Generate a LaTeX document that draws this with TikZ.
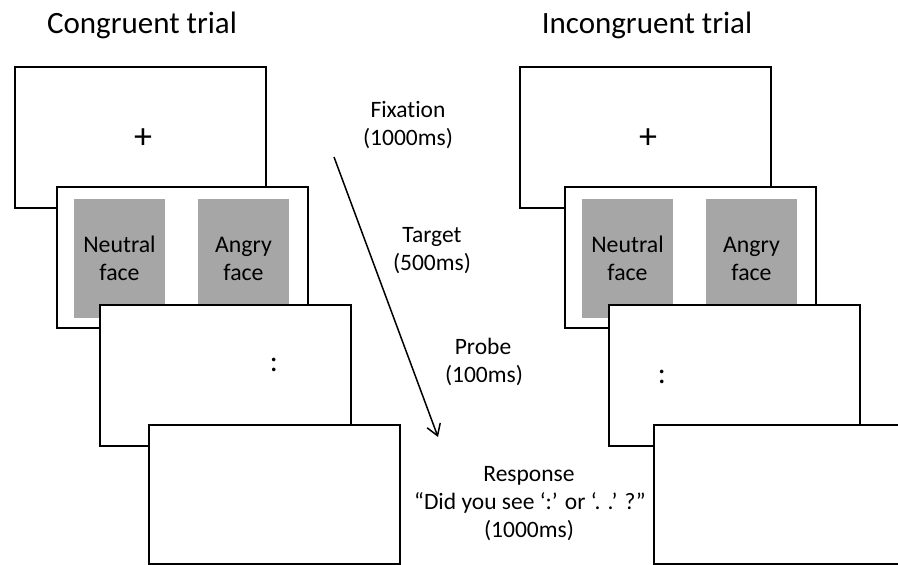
\documentclass[tikz,border=0pt]{standalone}
\usepackage{fontspec}
\setmainfont{Carlito}[Ligatures=NoCommon]
\usetikzlibrary{arrows.meta}
\definecolor{facegray}{HTML}{A6A6A6}
\begin{document}
\begin{tikzpicture}[x=1pt,y=-1pt,
  screen/.style={draw=black, line width=2.6pt, fill=white, inner sep=0pt, outer sep=0pt,
    minimum width=251pt, minimum height=141pt, anchor=north west},
  lastscreen/.style={screen, minimum height=139pt},
  facebox/.style={fill=facegray, draw=none, inner sep=0pt, outer sep=0pt,
    minimum width=91pt, minimum height=119pt, anchor=north west},
  title/.style={font=\fontsize{31}{36}\selectfont, anchor=base, inner sep=0pt},
  lab/.style={font=\fontsize{23.5}{28}\selectfont, anchor=base, inner sep=0pt},
  facelab/.style={font=\fontsize{23.8}{28}\selectfont, anchor=base, inner sep=0pt},
  plussym/.style={font=\fontsize{36}{40}\selectfont, anchor=base, inner sep=0pt},
  colonsym/.style={font=\fontsize{30}{34}\selectfont, anchor=base, inner sep=0pt},
  flow/.style={line width=1.5pt, -{Straight Barb[length=11pt,width=14pt]}}]
\useasboundingbox (0,0) rectangle (898,565);
\clip (0,0) rectangle (898,565);

% titles
\node[title] (tc) at (142,33) {Congruent trial};
\node[title] (ti) at (647,33) {Incongruent trial};

% ---------- congruent ----------
\node[screen] (L1) at (15,67) {};
\node[plussym] (Lplus) at (143,148.5) {+};
\node[screen] (L2) at (57,187) {};
\node[facebox] (Lg1) at (74,199) {};
\node[facebox] (Lg2) at (198,199) {};
\node[facelab] (Ln1) at (119.5,252) {Neutral};
\node[facelab] (Ln2) at (119.5,280) {face};
\node[facelab] (La1) at (243.5,252) {Angry};
\node[facelab] (La2) at (243.5,280) {face};
\node[screen] (L3) at (100,305) {};
\node[colonsym] (Lcolon) at (274,371.5) {:};
\node[lastscreen] (L4) at (149,425) {};

% ---------- incongruent ----------
\node[screen] (R1) at (520,67) {};
\node[plussym] (Rplus) at (648,148.5) {+};
\node[screen] (R2) at (565,187) {};
\node[facebox] (Rg1) at (582,199) {};
\node[facebox] (Rg2) at (706,199) {};
\node[facelab] (Rn1) at (627.5,252) {Neutral};
\node[facelab] (Rn2) at (627.5,280) {face};
\node[facelab] (Ra1) at (751.5,252) {Angry};
\node[facelab] (Ra2) at (751.5,280) {face};
\node[screen] (R3) at (609,305) {};
\node[colonsym] (Rcolon) at (662,383.5) {:};
\node[lastscreen] (R4) at (654,425) {};

% ---------- time arrow and labels ----------
\coordinate (a0) at (334,157);
\coordinate (a1) at (438,437);
\draw[flow] (a0) -- (a1);

\node[lab] (f1) at (408,117) {Fixation};
\node[lab] (f2) at (408,145) {(1000ms)};
\node[lab] (t1) at (432,242) {Target};
\node[lab] (t2) at (432,270) {(500ms)};
\node[lab] (p1) at (483,354) {Probe};
\node[lab] (p2) at (484,382) {(100ms)};
\node[lab] (r1) at (529,481) {Response};
\node[lab] (r2) at (530,509) {“Did you see ‘:’ or ‘. .’ ?”};
\node[lab] (r3) at (529,537) {(1000ms)};
\end{tikzpicture}
\end{document}
